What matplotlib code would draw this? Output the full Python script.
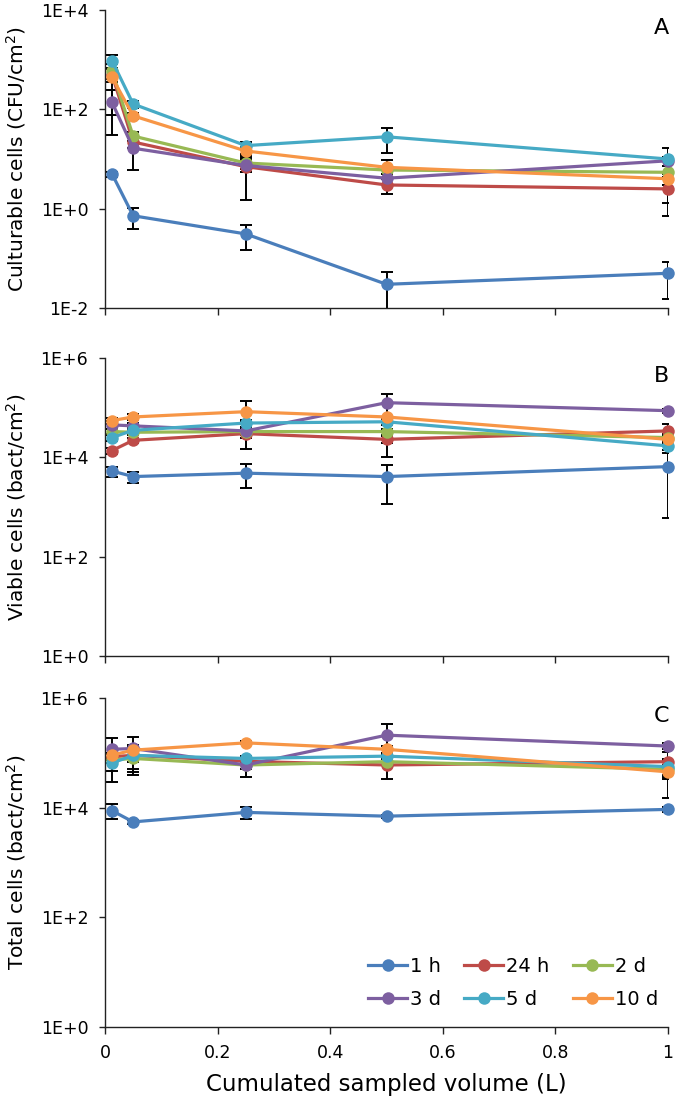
import numpy as np
import matplotlib
matplotlib.use("Agg")
import matplotlib.pyplot as plt
from matplotlib.ticker import FixedLocator, FuncFormatter, NullLocator

# ---------------------------------------------------------------------------
# Data
# ---------------------------------------------------------------------------
volume = [0.0125, 0.05, 0.25, 0.5, 1.0]          # cumulated sampled volume (L)
series_names = ["1 h", "24 h", "2 d", "3 d", "5 d", "10 d"]
series_colors = ["#4A7EBB", "#BE4B48", "#98B954", "#7D5FA0", "#46AAC5", "#F79646"]

# A - culturable cells (CFU/cm2)
cult_1h  = [5.0, 0.72, 0.31, 0.030, 0.050]
cult_24h = [500, 22, 7.0, 3.0, 2.5]
cult_2d  = [600, 29, 8.3, 6.0, 5.4]
cult_3d  = [138, 16.5, 7.4, 4.1, 9.2]
cult_5d  = [955, 128, 18.6, 28, 10]
cult_10d = [444, 74, 14.5, 6.8, 4.0]
cult_sd_1h  = [0.6, 0.33, 0.16, 0.023, 0.035]
cult_sd_24h = [150, 5, 5.5, 1.0, 1.8]
cult_sd_2d  = [200, 6, 2, 1, 4.1]
cult_sd_3d  = [108, 10.5, 2, 1, 2]
cult_sd_5d  = [290, 20, 3, 15, 7]
cult_sd_10d = [367, 10, 3, 2.7, 1]

# B - viable cells (bact/cm2)
via_1h  = [5300, 4100, 4800, 4100, 6500]
via_24h = [13700, 22000, 30000, 23000, 34000]
via_2d  = [33000, 32000, 33000, 33000, 25000]
via_3d  = [45000, 43000, 34000, 126000, 87000]
via_5d  = [25000, 35000, 49000, 52000, 17000]
via_10d = [55000, 65000, 83000, 65000, 23000]
via_sd_1h  = [1200, 1000, 2400, 2950, 5900]
via_sd_24h = [2000, 3000, 5000, 4000, 12000]
via_sd_2d  = [5000, 4000, 5000, 5000, 4000]
via_sd_3d  = [8000, 6000, 19000, 60000, 8000]
via_sd_5d  = [4000, 5000, 8000, 8000, 3000]
via_sd_10d = [8000, 8000, 55000, 55000, 4000]

# C - total cells (bact/cm2)
tot_1h  = [8800, 5500, 8200, 7000, 9300]
tot_24h = [85000, 90000, 70000, 60000, 69000]
tot_2d  = [74000, 79000, 60000, 69000, 50000]
tot_3d  = [116000, 120000, 60000, 210000, 133000]
tot_5d  = [65000, 90000, 79000, 87000, 56000]
tot_10d = [91000, 112000, 152000, 116000, 45000]
tot_sd_1h  = [2700, 500, 2000, 500, 800]
tot_sd_24h = [10000, 40000, 10000, 27000, 36000]
tot_sd_2d  = [10000, 10000, 10000, 10000, 10000]
tot_sd_3d  = [70000, 75000, 24000, 126000, 15000]
tot_sd_5d  = [35000, 51000, 10000, 10000, 20000]
tot_sd_10d = [10000, 10000, 10000, 15000, 30000]

panels = [
    dict(letter="A", ylabel="Culturable cells (CFU/cm$^2$)", ylim=(1e-2, 1e4),
         ticks=[1e-2, 1e0, 1e2, 1e4],
         vals=[cult_1h, cult_24h, cult_2d, cult_3d, cult_5d, cult_10d],
         sds=[cult_sd_1h, cult_sd_24h, cult_sd_2d, cult_sd_3d, cult_sd_5d, cult_sd_10d]),
    dict(letter="B", ylabel="Viable cells (bact/cm$^2$)", ylim=(1e0, 1e6),
         ticks=[1e0, 1e2, 1e4, 1e6],
         vals=[via_1h, via_24h, via_2d, via_3d, via_5d, via_10d],
         sds=[via_sd_1h, via_sd_24h, via_sd_2d, via_sd_3d, via_sd_5d, via_sd_10d]),
    dict(letter="C", ylabel="Total cells (bact/cm$^2$)", ylim=(1e0, 1e6),
         ticks=[1e0, 1e2, 1e4, 1e6],
         vals=[tot_1h, tot_24h, tot_2d, tot_3d, tot_5d, tot_10d],
         sds=[tot_sd_1h, tot_sd_24h, tot_sd_2d, tot_sd_3d, tot_sd_5d, tot_sd_10d]),
]

# ---------------------------------------------------------------------------
# Figure
# ---------------------------------------------------------------------------
plt.rcParams["font.family"] = ["DejaVu Sans"]
TICK_FS = 12.5
W, H = 675, 1100
fig = plt.figure(figsize=(W / 100, H / 100), dpi=100)

# axes boxes in pixels: (top, bottom)
boxes = [(10, 308), (358, 656), (698, 1027)]
x_left, x_right = 105, 668

sci_fmt = FuncFormatter(lambda v, _: f"1E{int(round(np.log10(v))):+d}")

axes = []
for (top, bot), p in zip(boxes, panels):
    ax = fig.add_axes([x_left / W, 1 - bot / H, (x_right - x_left) / W, (bot - top) / H])
    axes.append(ax)
    x = np.array(volume)
    handles = []
    for name, col, v, sd in zip(series_names, series_colors, p["vals"], p["sds"]):
        v = np.array(v, float)
        sd = np.array(sd, float)
        lower = np.minimum(sd, v * 0.9999)
        ax.errorbar(x, v, yerr=[lower, sd], fmt="none", ecolor="black",
                    elinewidth=1.4, capsize=4, capthick=1.4, zorder=2, clip_on=True)
        h, = ax.plot(x, v, color=col, lw=2.3, marker="o", markersize=9,
                     markeredgewidth=0, zorder=3, clip_on=False, label=name)
        handles.append(h)

    ax.set_yscale("log")
    ax.set_ylim(*p["ylim"])
    ax.set_xlim(0, 1)
    ax.yaxis.set_major_locator(FixedLocator(p["ticks"]))
    ax.yaxis.set_major_formatter(sci_fmt)
    ax.yaxis.set_minor_locator(NullLocator())
    ax.set_xticks([0, 0.2, 0.4, 0.6, 0.8, 1.0])
    ax.set_xticklabels(["0", "0.2", "0.4", "0.6", "0.8", "1"])
    for s in ("top", "right"):
        ax.spines[s].set_visible(False)
    for s in ("left", "bottom"):
        ax.spines[s].set_linewidth(1.0)
        ax.spines[s].set_color("#222222")
    ax.tick_params(axis="both", direction="out", width=1.0,
                   color="#222222", labelsize=TICK_FS)
    ax.tick_params(axis="y", length=4, pad=8)
    ax.tick_params(axis="x", length=5, pad=7)
    ax.set_ylabel(p["ylabel"], fontsize=14.5)
    ax.yaxis.set_label_coords(-0.137, 0.5)
    fig.text(669 / W, 1 - ((top + 18) / H), p["letter"], fontsize=16,
             ha="right", va="center")

for ax in axes[:2]:
    ax.tick_params(axis="x", labelbottom=False)

axes[2].set_xlabel("Cumulated sampled volume (L)", fontsize=16.5, labelpad=8)

# legend: rows 1h/24h/2d and 3d/5d/10d
order = [0, 3, 1, 4, 2, 5]
leg = axes[2].legend([handles[i] for i in order], [series_names[i] for i in order],
                     ncol=3, loc="lower right", bbox_to_anchor=(0.982, 0.055),
                     frameon=False, fontsize=14, handlelength=2.0,
                     handletextpad=0.15, columnspacing=1.2, labelspacing=0.7,
                     borderpad=0, borderaxespad=0)

fig.savefig("out.png", dpi=100)
